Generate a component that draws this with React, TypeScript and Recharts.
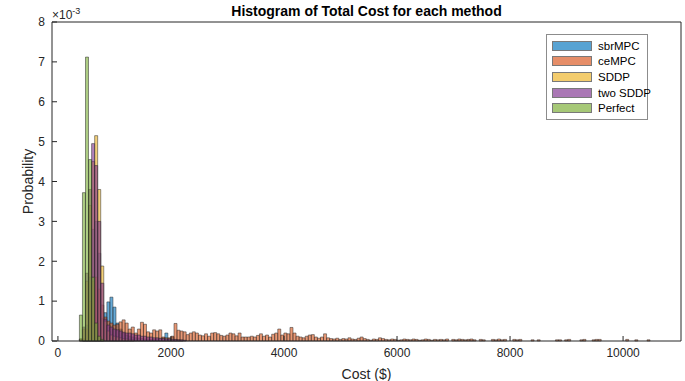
import { BarChart, Bar, XAxis, YAxis, Legend } from 'recharts';

// histogram bins (cost in $), pdf values in units of 1e-3
const binStart = 380;
const binWidth = 54;
const xTicks = [0, 2000, 4000, 6000, 8000, 10000];
const yTicks = [0, 1, 2, 3, 4, 5, 6, 7, 8];

const sbrMPC = [
  0, 0.05, 0.4, 1.6, 2.8, 3.0, 2.2, 0.57, 0.71, 0.98, 1.1, 0.85, 0.45, 0.3, 0.2, 0.15, 0.12, 0.1, 0.08,
  0.07, 0.06, 0.05, 0.05, 0.04, 0.04, 0.05, 0.06, 0.08, 0.2, 0.06, 0.1, 0.04, 0.03, 0.02,
];

const ceMPC = [
  // 0-12
  0, 0.05, 0.3, 1.0, 1.5, 1.6, 1.3, 0.9, 0.6, 0.5, 0.45, 0.4, 0.42,
  // 13-35
  0.48, 0.53, 0.45, 0.3, 0.35, 0.2, 0.3, 0.47, 0.42, 0.23, 0.2, 0.28, 0.25, 0.28, 0.1, 0.08, 0.08, 0.12,
  0.44, 0.27, 0.25, 0.23, 0.16,
  // 36-57
  0.2, 0.23, 0.2, 0.15, 0.13, 0.18, 0.12, 0.2, 0.21, 0.18, 0.14, 0.12, 0.15, 0.2, 0.18, 0.13, 0.2, 0.1,
  0.1, 0.1, 0.12, 0.1,
  // 58-85
  0.14, 0.18, 0.12, 0.15, 0.1, 0.17, 0.2, 0.3, 0.15, 0.2, 0.18, 0.34, 0.2, 0.12, 0.1, 0.08, 0.12, 0.15,
  0.16, 0.1, 0.07, 0.1, 0.18, 0.08, 0.06, 0.05, 0.07, 0.04,
  // 86-117
  0.06, 0.05, 0.08, 0.05, 0.04, 0.07, 0.1, 0.06, 0.04, 0.02, 0.05, 0.04, 0.08, 0.06, 0.04, 0.03, 0.05,
  0.04, 0.02, 0.03, 0.05, 0.04, 0.03, 0.05, 0.04, 0.02, 0.03, 0.05, 0.04, 0.02, 0.04, 0.03,
  // 118-187
  0.04, 0.03, 0.05, 0, 0.04, 0.03, 0.05, 0.04, 0.03, 0.04, 0.05, 0.03, 0, 0.04, 0.03, 0, 0, 0.04, 0.03,
  0.05, 0.03, 0.04, 0, 0, 0.04, 0.03, 0.04, 0, 0, 0, 0.03, 0, 0.03, 0, 0, 0, 0, 0, 0.03, 0.03, 0, 0.03,
  0.04, 0, 0, 0, 0.03, 0.04, 0, 0, 0.03, 0.04, 0.04, 0, 0, 0, 0, 0, 0, 0, 0, 0.04, 0, 0, 0.03, 0, 0, 0,
  0.03, 0,
];

const SDDP = [0.05, 0.3, 1.5, 3.4, 4.5, 5.15, 3.8, 1.88, 0.5, 0.25, 0.15, 0.12, 0.1, 0.08, 0.06, 0.05, 0.04, 0.03];

const twoSDDP = [
  0.05, 0.35, 1.7, 3.8, 4.95, 4.4, 3.0, 1.45, 0.55, 0.4, 0.35, 0.3, 0.28, 0.25, 0.22, 0.2, 0.2, 0.18,
  0.15, 0.15, 0.12, 0.12, 0.1, 0.1, 0.08, 0.08, 0.07, 0.06, 0.05, 0.05, 0.04, 0.04, 0.03, 0.03, 0.02,
];

const Perfect = [0.65, 3.72, 7.12, 4.55, 1.6, 0.45, 0.12, 0.04];

const series = [
  { key: 'sbrMPC', name: 'sbrMPC', color: '#0072BD', values: sbrMPC, axis: 'a' },
  { key: 'ceMPC', name: 'ceMPC', color: '#D95319', values: ceMPC, axis: 'b' },
  { key: 'SDDP', name: 'SDDP', color: '#EDB120', values: SDDP, axis: 'c' },
  { key: 'twoSDDP', name: 'two SDDP', color: '#7E2F8E', values: twoSDDP, axis: 'd' },
  { key: 'Perfect', name: 'Perfect', color: '#77AC30', values: Perfect, axis: 'e' },
];

const data = ceMPC.map((_, i) => {
  const row: Record<string, number> = { x: binStart + binWidth * (i + 0.5), box: 0 };
  series.forEach((s) => {
    row[s.key] = s.values[i] ?? 0;
  });
  return row;
});

const axisColor = '#262626';
const xDomain = [-105, 11025];

function LegendBox() {
  return (
    <div
      style={{
        border: '1px solid #8c8c8c',
        background: '#fff',
        width: 95,
        padding: '3px 0 3px 5px',
        fontSize: 11.5,
        color: '#000',
        whiteSpace: 'nowrap',
      }}
    >
      {series.map((s) => (
        <div key={s.key} style={{ display: 'flex', alignItems: 'center', height: 15.6 }}>
          <div
            style={{
              width: 38,
              height: 8,
              border: '1px solid #333',
              background: s.color,
              opacity: 0.65,
              marginRight: 6,
              flexShrink: 0,
            }}
          />
          <span>{s.name}</span>
        </div>
      ))}
    </div>
  );
}

export default function App() {
  return (
    <div
      style={{
        position: 'absolute',
        left: 0,
        top: 0,
        width: 685,
        height: 381,
        background: '#fff',
        fontFamily: '"Liberation Sans", Arial, sans-serif',
      }}
    >
      <div
        style={{
          position: 'absolute',
          left: 52,
          width: 629,
          top: 3,
          textAlign: 'center',
          fontWeight: 'bold',
          fontSize: 14,
          lineHeight: '16px',
          color: '#000',
        }}
      >
        Histogram of Total Cost for each method
      </div>
      <div style={{ position: 'absolute', left: 52, top: 4, fontSize: 12, color: axisColor, lineHeight: '14px' }}>
        ×10<sup style={{ fontSize: 9 }}>-3</sup>
      </div>
      <BarChart
        width={685}
        height={381}
        data={data}
        margin={{ top: 21, right: 3, bottom: 0, left: 0 }}
        barCategoryGap={0}
        barGap={0}
      >
        <XAxis
          xAxisId="a"
          dataKey="x"
          type="number"
          domain={xDomain}
          ticks={xTicks}
          height={40}
          tickSize={-5}
          tickMargin={12}
          stroke={axisColor}
          tick={{ fontSize: 12, fill: axisColor }}
          label={{ value: 'Cost ($)', position: 'insideBottom', offset: 2, style: { fontSize: 14, fill: axisColor } }}
        />
        {['b', 'c', 'd', 'e'].map((id) => (
          <XAxis key={id} xAxisId={id} dataKey="x" type="number" domain={xDomain} hide />
        ))}
        <XAxis
          xAxisId="top"
          orientation="top"
          dataKey="x"
          type="number"
          domain={xDomain}
          ticks={xTicks}
          height={1}
          tickSize={-5}
          tick={false}
          stroke={axisColor}
        />
        <YAxis
          domain={[0, 8]}
          ticks={yTicks}
          width={52}
          tickSize={-5}
          tickMargin={12}
          stroke={axisColor}
          tick={{ fontSize: 12, fill: axisColor }}
          label={{
            value: 'Probability',
            angle: -90,
            position: 'insideLeft',
            offset: 28,
            style: { textAnchor: 'middle', fontSize: 14, fill: axisColor },
          }}
        />
        <YAxis
          yAxisId="r"
          orientation="right"
          domain={[0, 8]}
          ticks={yTicks}
          width={1}
          tickSize={-5}
          tick={false}
          stroke={axisColor}
        />
        <Legend
          layout="vertical"
          align="center"
          verticalAlign="middle"
          content={() => <LegendBox />}
          wrapperStyle={{ position: 'absolute', left: 546, top: 34, width: 102 }}
        />
        {series.map((s) => (
          <Bar
            key={s.key}
            dataKey={s.key}
            name={s.name}
            xAxisId={s.axis}
            fill={s.color}
            fillOpacity={0.6}
            stroke={axisColor}
            strokeWidth={0.5}
            isAnimationActive={false}
          />
        ))}
        {/* zero-height series so the box axes (top / right) get drawn */}
        <Bar dataKey="box" xAxisId="top" yAxisId="r" legendType="none" isAnimationActive={false} />
      </BarChart>
    </div>
  );
}
